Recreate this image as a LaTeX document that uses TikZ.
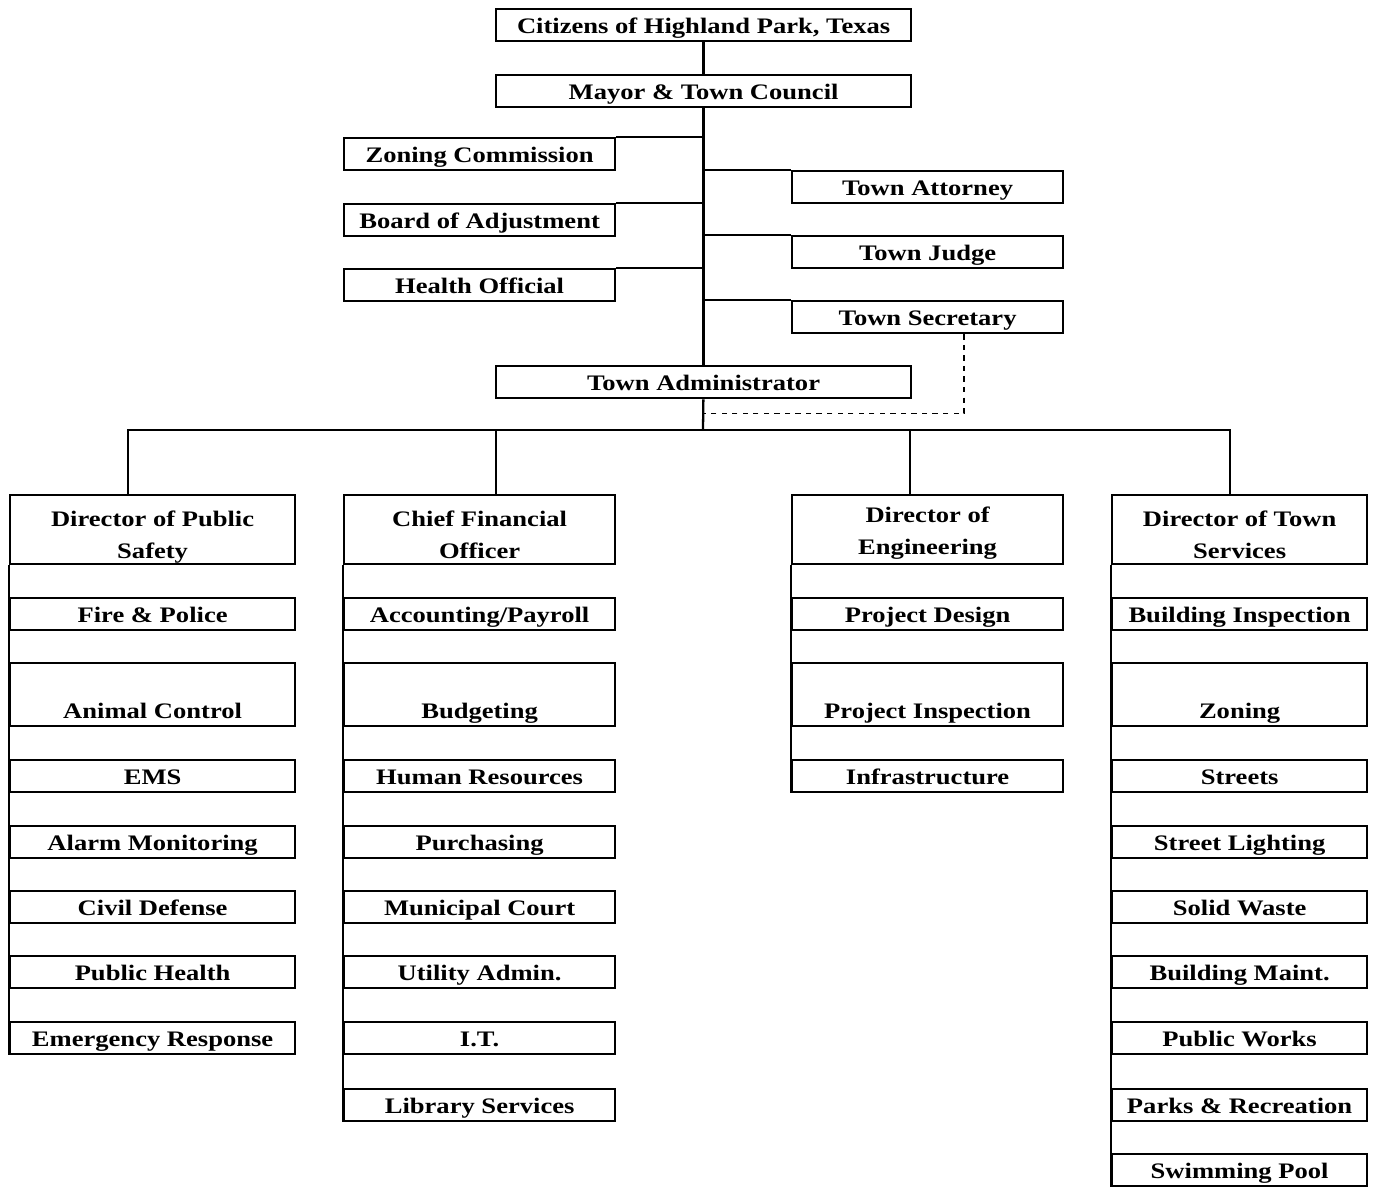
\documentclass[tikz,border=0pt]{standalone}
\usepackage{fontspec}
\setmainfont{Liberation Serif}[FakeStretch=1.2]
\usetikzlibrary{calc}

\tikzset{
	unit/.style={draw, line width=1.3pt, inner sep=0pt, anchor=north west, align=center, font=\fontsize{12.6}{18}\selectfont\bfseries},
	small/.style={unit, minimum height=0.64cm, text height=0.32cm, text depth=0pt},
	tall/.style={unit, minimum height=1.26cm, text height=0.94cm, text depth=0pt},
	head/.style={unit, minimum height=1.38cm, text height=1.26cm, text depth=0.12cm},
	link/.style={line width=1.3pt},
}

\begin{document}
\begin{tikzpicture}[x=0.02cm, y=-0.02cm]
			%%%%% START %%%%%
			\useasboundingbox (0,0) rectangle (1374,1188);
			
			% council level
			\node[small, minimum width=8.3cm] (cit) at (495,8) {Citizens of Highland Park, Texas};
			\node[small, minimum width=8.3cm] (mtc) at (495,74) {Mayor \& Town Council};
			
			\node[small, minimum width=5.42cm] (zc) at (343,137) {Zoning Commission};
			\node[small, minimum width=5.42cm] (boa) at (343,203) {Board of Adjustment};
			\node[small, minimum width=5.42cm] (ho) at (343,268) {Health Official};
			
			\node[small, minimum width=5.42cm] (ta) at (791,170) {Town Attorney};
			\node[small, minimum width=5.42cm] (tj) at (791,235) {Town Judge};
			\node[small, minimum width=5.42cm] (ts) at (791,300) {Town Secretary};
			
			\node[small, minimum width=8.3cm] (adm) at (495,365) {Town Administrator};
			\coordinate (j) at (703,430);
			
			\draw[link] (cit) -- (mtc);
			\draw[link] (mtc) -- (adm);
			\draw[link] (adm) -- (j);
			\draw[link] (zc.north east) -- (zc.north east -| mtc.south);
			\draw[link] (boa.north east) -- (boa.north east -| mtc.south);
			\draw[link] (ho.north east) -- (ho.north east -| mtc.south);
			\draw[link] (ta.north west) -- (ta.north west -| mtc.south);
			\draw[link] (tj.north west) -- (tj.north west -| mtc.south);
			\draw[link] (ts.north west) -- (ts.north west -| mtc.south);
			\draw[line width=0.8pt, dashed] ([xshift=0.73cm]ts.south) |- ([yshift=-0.28cm]adm.south);
			
			% public safety
			\begin{scope}[every node/.append style={minimum width=5.7cm}]
			\node[head] (ps) at (9,494) {Director of Public\\Safety};
			\node[small] (fp) at (9,597) {Fire \& Police};
			\node[tall] (ac) at (9,662) {Animal Control};
			\node[small] (ems) at (9,759) {EMS};
			\node[small] (am) at (9,825) {Alarm Monitoring};
			\node[small] (cd) at (9,890) {Civil Defense};
			\node[small] (ph) at (9,955) {Public Health};
			\node[small] (er) at (9,1021) {Emergency Response};
			\end{scope}
			
			% finance
			\begin{scope}[every node/.append style={minimum width=5.42cm}]
			\node[head] (cfo) at (343,494) {Chief Financial\\Officer};
			\node[small] (acc) at (343,597) {Accounting/Payroll};
			\node[tall] (bud) at (343,662) {Budgeting};
			\node[small] (hr) at (343,759) {Human Resources};
			\node[small] (pur) at (343,825) {Purchasing};
			\node[small] (mc) at (343,890) {Municipal Court};
			\node[small] (ua) at (343,955) {Utility Admin.};
			\node[small] (it) at (343,1021) {I.T.};
			\node[small] (lib) at (343,1088) {Library Services};
			\end{scope}
			
			% engineering
			\begin{scope}[every node/.append style={minimum width=5.42cm}]
			\node[head, text height=1.18cm, text depth=0.2cm] (eng) at (791,494) {Director of\\Engineering};
			\node[small] (pd) at (791,597) {Project Design};
			\node[tall] (pi) at (791,662) {Project Inspection};
			\node[small] (inf) at (791,759) {Infrastructure};
			\end{scope}
			
			% town services
			\begin{scope}[every node/.append style={minimum width=5.1cm}]
			\node[head] (dts) at (1111,494) {Director of Town\\Services};
			\node[small] (bi) at (1111,597) {Building Inspection};
			\node[tall] (zon) at (1111,662) {Zoning};
			\node[small] (st) at (1111,759) {Streets};
			\node[small] (sl) at (1111,825) {Street Lighting};
			\node[small] (sw) at (1111,890) {Solid Waste};
			\node[small] (bm) at (1111,955) {Building Maint.};
			\node[small] (pw) at (1111,1021) {Public Works};
			\node[small] (pr) at (1111,1088) {Parks \& Recreation};
			\node[small] (sp) at (1111,1153) {Swimming Pool};
			\end{scope}
			
			\draw[link] ([xshift=-0.49cm]ps.north) |- (j) -| ([xshift=-0.19cm]dts.north);
			\draw[link] ([xshift=0.33cm]cfo.north) -- ([xshift=0.33cm]cfo.north |- j);
			\draw[link] ([xshift=-0.35cm]eng.north) -- ([xshift=-0.35cm]eng.north |- j);
			
			\draw[link] (ps.south west) -- (er.south west);
			\draw[link] (cfo.south west) -- (lib.south west);
			\draw[link] (eng.south west) -- (inf.south west);
			\draw[link] (dts.south west) -- (sp.south west);
			
			%%%%% END %%%%%
\end{tikzpicture}
\end{document}
